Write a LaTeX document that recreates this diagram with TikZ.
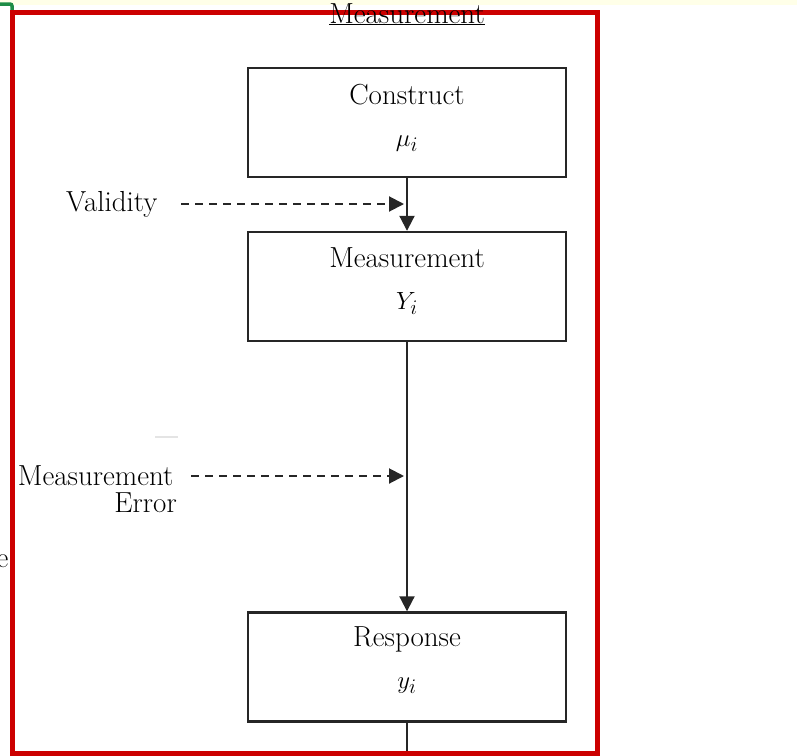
\documentclass[tikz,border=0pt]{standalone}
\usepackage{fontspec}
\usetikzlibrary{arrows.meta,positioning}
\definecolor{ChartInk}{HTML}{262626}
\definecolor{ChartFrame}{HTML}{CC0000}
\definecolor{ChartStrip}{HTML}{FFFFE8}
\definecolor{ChartGreen}{HTML}{1E8C45}
\definecolor{ChartFaint}{HTML}{E4E4E4}
\begin{document}
\begin{tikzpicture}[x=1pt,y=-1pt,
    font=\fontsize{29}{42}\selectfont,
    stagebox/.style={draw=ChartInk,line width=2.4pt,minimum width=318pt,
      minimum height=109pt,inner sep=0pt},
    stagetext/.style={anchor=base,align=center},
    flow/.style={ChartInk,line width=2pt,-{Triangle[length=15pt,width=15pt]}},
    dashflow/.style={flow,dash pattern=on 8pt off 6pt}]
  \useasboundingbox (0,0) rectangle (797,755);
  \fill[ChartStrip] (0,0) rectangle (797,5);
  \draw[ChartGreen,line width=3.5pt,rounded corners=2pt] (0,4) -- (12,4) -- (12,10);

  \node[stagebox] (construct) at (407,122.5) {};
  \node[stagebox] (measure) at (407,286.5) {};
  \node[stagebox] (response) at (407,667) {};
  \node[stagetext] (constructtext) at (407,146) {Construct\\ $\mu_i$};
  \node[stagetext] (measuretext) at (407,309) {Measurement\\ $Y_i$};
  \node[stagetext] (responsetext) at (407,688) {Response\\ $y_i$};

  \node[anchor=east] (validity) at (161,204) {Validity};
  \node[anchor=east] (errtop) at (177,476) {Measurement};
  \node[anchor=north east,inner sep=0pt] (errbot) at ([yshift=-3pt]errtop.south east) {Error};
  \node[anchor=base east,inner sep=0pt] (cutletter) at (8.5,567) {e};

  \coordinate (valhit) at (construct.south |- validity);
  \coordinate (errhit) at (measure.south |- errtop);
  \coordinate (tail) at (response.south |- 0,760);

  \draw[flow] (construct) -- (measure);
  \draw[flow] (measure) -- (response);
  \draw[ChartInk,line width=2pt] (response) -- (tail);
  \draw[dashflow,shorten <=20pt,shorten >=3pt] (validity) -- (valhit);
  \draw[dashflow,shorten <=14pt,shorten >=3pt] (errtop) -- (errhit);
  \draw[ChartFaint,line width=1.5pt] (155,437) -- (178,437);

  \draw[ChartFrame,line width=5pt] (12,12) rectangle (597.5,753.5);
  \node[anchor=base] (title) at (407,23) {\underline{Measurement}};
\end{tikzpicture}
\end{document}
